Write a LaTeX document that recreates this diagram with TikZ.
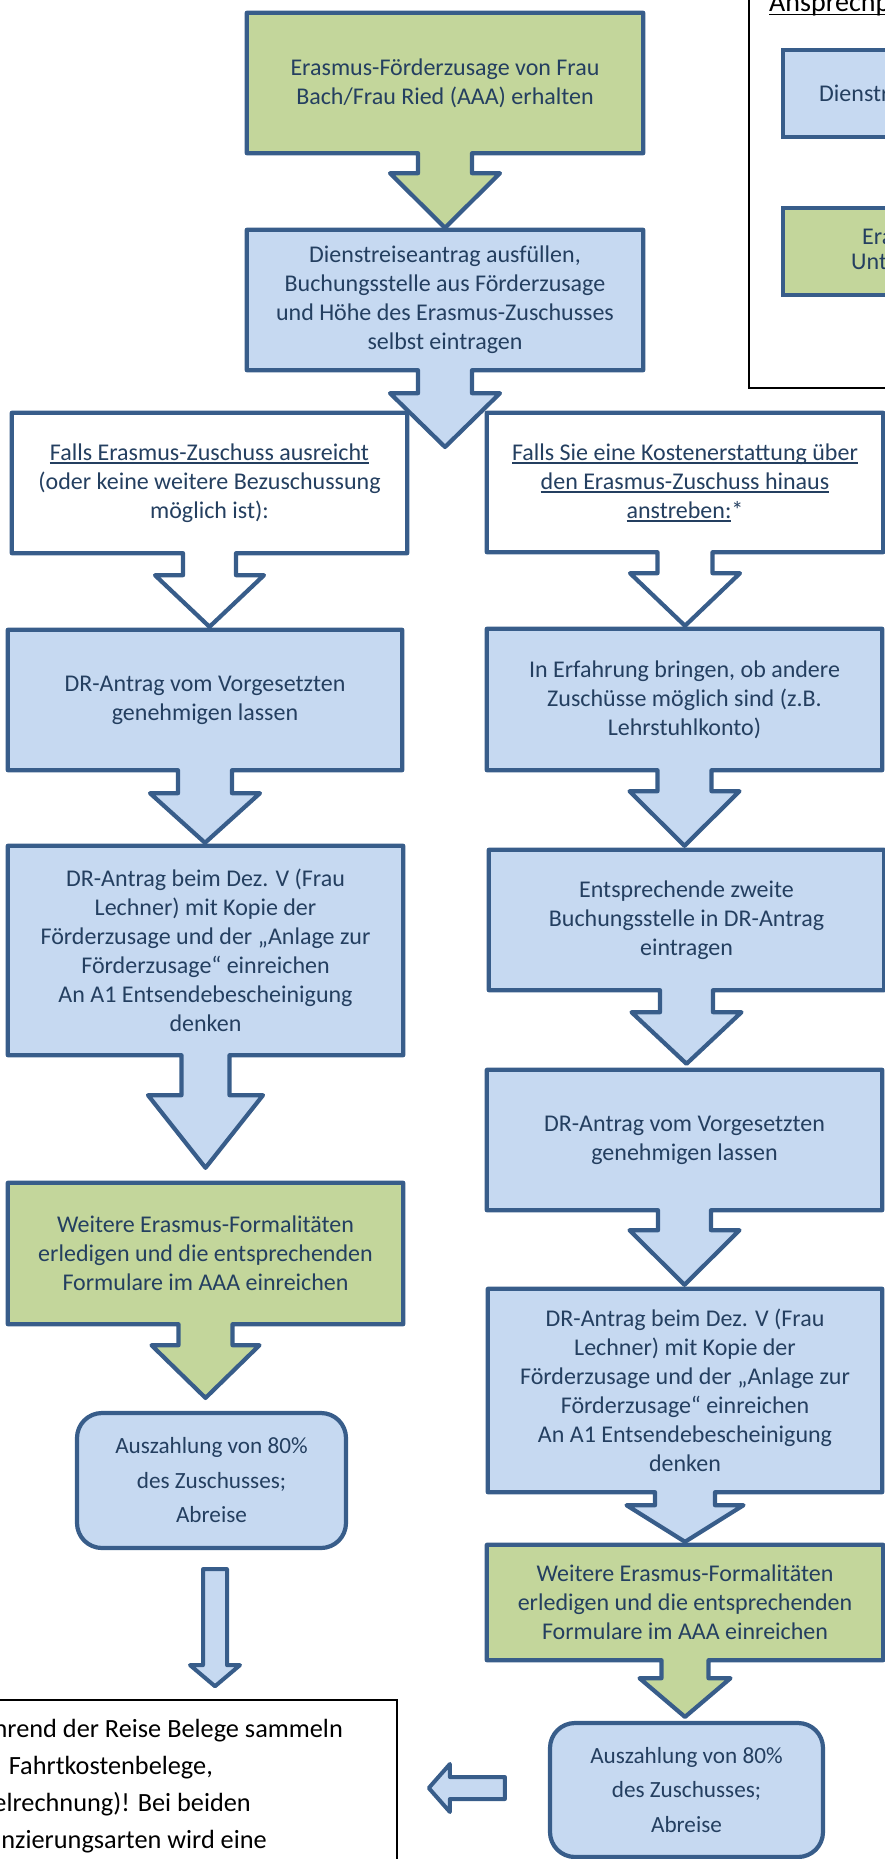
\documentclass[tikz,border=0pt]{standalone}
\usepackage{fontspec}
\setmainfont{Carlito}
\usetikzlibrary{calc,backgrounds}
\definecolor{bcol}{HTML}{385D8A}
\definecolor{bluef}{HTML}{C6D9F1}
\definecolor{greenf}{HTML}{C3D69B}
\definecolor{tcol}{HTML}{243F60}
\newcommand{\ulx}[1]{\setbox0\hbox{#1}\rlap{\rule[-3.4pt]{\wd0}{1.6pt}}\box0}
% #1 node, #2 fill, #3 target, #4 stub half width, #5 stub length, #6 head half width, #7 gap above target
\newcommand{\callout}[7]{%
  \begin{scope}[on background layer]
  \path[calloutline, fill=#2] (#1.north west) -- (#1.north east) -- (#1.south east)
    -- ($(#1.south)+(#4,0)$) -- ($(#1.south)+(#4,#5)$) -- ($(#1.south)+(#6,#5)$)
    -- ($(#1.south |- #3.north)+(0,-#7)$)
    -- ($(#1.south)+(-#6,#5)$) -- ($(#1.south)+(-#4,#5)$) -- ($(#1.south)+(-#4,0)$)
    -- (#1.south west) -- cycle;
  \end{scope}}
\tikzset{
  calloutline/.style={draw=bcol, line width=4.2pt, line join=round},
  procbox/.style={rectangle, inner sep=0pt, align=center, text=tcol,
    font=\fontsize{24}{29}\selectfont},
  roundbox/.style={rectangle, rounded corners=25pt, draw=bcol, fill=bluef, line width=4.2pt,
    inner sep=0pt, align=center, text=tcol, font=\fontsize{23.2}{34.5}\selectfont},
  notetext/.style={anchor=base east, inner sep=0pt, text=black, font=\fontsize{26.3}{37}\selectfont},
  legtext/.style={anchor=base west, inner sep=0pt, text=tcol, font=\fontsize{24}{29}\selectfont},
}
\begin{document}
\begin{tikzpicture}[x=1pt, y=-1pt]
\useasboundingbox (0,0) rectangle (885,1859);
\clip (0,0) rectangle (885,1859);

% top chain
\node[procbox, minimum width=396, minimum height=140] (top) at (445,83)
  {Erasmus-Förderzusage von Frau\\Bach/Frau Ried (AAA) erhalten};
\node[procbox, minimum width=396, minimum height=140] (dra) at (445,300)
  {Dienstreiseantrag ausfüllen,\\Buchungsstelle aus Förderzusage\\und Höhe des Erasmus-Zuschusses\\selbst eintragen};
\coordinate (split) at (445,447);

% left column
\node[procbox, minimum width=395, minimum height=140] (fallsL) at (209.5,483)
  {\ulx{Falls Erasmus-Zuschuss ausreicht}\\(oder keine weitere Bezuschussung\\möglich ist):};
\node[procbox, minimum width=394, minimum height=140] (drL) at (205,700)
  {DR-Antrag vom Vorgesetzten\\genehmigen lassen};
\node[procbox, minimum width=395, minimum height=209] (dezL) at (205.5,950.5)
  {DR-Antrag beim Dez. V (Frau\\Lechner) mit Kopie der\\Förderzusage und der „Anlage zur\\Förderzusage“ einreichen\\An A1 Entsendebescheinigung\\denken};
\node[procbox, minimum width=395, minimum height=141] (greenL) at (205.5,1253.5)
  {Weitere Erasmus-Formalitäten\\erledigen und die entsprechenden\\Formulare im AAA einreichen};
\node[roundbox, minimum width=269, minimum height=135] (rndL) at (211.5,1480.5)
  {Auszahlung von 80\%\\des Zuschusses;\\Abreise};

% right column
\node[procbox, minimum width=396, minimum height=139] (fallsR) at (685,482.5)
  {\ulx{Falls Sie eine Kostenerstattung über}\\\ulx{den Erasmus-Zuschuss hinaus}\\\ulx{anstreben:}*};
\node[procbox, minimum width=395, minimum height=141] (erfR) at (684.5,699.5)
  {In Erfahrung bringen, ob andere\\Zuschüsse möglich sind (z.B.\\Lehrstuhlkonto)};
\node[procbox, minimum width=395, minimum height=140] (entR) at (686.5,920)
  {Entsprechende zweite\\Buchungsstelle in DR-Antrag\\eintragen};
\node[procbox, minimum width=395, minimum height=140] (drR) at (684.5,1140)
  {DR-Antrag vom Vorgesetzten\\genehmigen lassen};
\node[procbox, minimum width=394, minimum height=203] (dezR) at (685,1390.5)
  {DR-Antrag beim Dez. V (Frau\\Lechner) mit Kopie der\\Förderzusage und der „Anlage zur\\Förderzusage“ einreichen\\An A1 Entsendebescheinigung\\denken};
\node[procbox, minimum width=396, minimum height=115] (greenR) at (685,1602.5)
  {Weitere Erasmus-Formalitäten\\erledigen und die entsprechenden\\Formulare im AAA einreichen};
\node[roundbox, minimum width=273, minimum height=134] (rndR) at (686.5,1790)
  {Auszahlung von 80\%\\des Zuschusses;\\Abreise};

% callout shapes
\callout{top}{greenf}{dra}{27}{20}{55}{2}
\callout{dra}{bluef}{split}{27}{23}{55}{0}
\callout{fallsL}{white}{drL}{26.5}{22}{54.5}{3}
\callout{drL}{bluef}{dezL}{27}{23}{55}{3}
\callout{dezL}{bluef}{greenL}{24}{40}{57.5}{15}
\callout{greenL}{greenf}{rndL}{27}{21}{54}{13}
\callout{fallsR}{white}{erfR}{27.5}{21}{55}{3}
\callout{erfR}{bluef}{entR}{27}{21}{55}{4}
\callout{entR}{bluef}{drR}{26.5}{22}{55}{6}
\callout{drR}{bluef}{dezR}{26.5}{20}{55}{4}
\callout{dezR}{bluef}{greenR}{30}{13}{58.5}{3}
\callout{greenR}{greenf}{rndR}{23.5}{18}{45.5}{4}

% notes box (cut off)
\node[draw=black, line width=1.5pt, minimum width=402, minimum height=170, inner sep=0pt] (notes) at (196,1785) {};
\node[notetext] (n1) at (343,1737) {hrend der Reise Belege sammeln};
\node[notetext] (n2) at (213,1774) {Fahrtkostenbelege,};
\node[notetext] (n3) at (251,1811) {elrechnung)! Bei beiden};
\node[notetext] (n4) at (267,1848) {nzierungsarten wird eine};

% thin down arrow rndL -> notes
\coordinate (ta) at ($(rndL.south)+(3.5,0)$);
\path[calloutline, line width=4pt, fill=bluef]
  ($(ta)+(-12,19)$) -- ($(ta)+(12,19)$) -- ($(ta)+(12,115)$)
  -- ($(ta)+(25,115)$) -- ($(ta |- notes.north)+(0,-13)$)
  -- ($(ta)+(-25,115)$) -- ($(ta)+(-12,115)$) -- cycle;

% left arrow rndR -> notes
\coordinate (la) at ($(rndR.west)+(0,-2)$);
\path[calloutline, line width=4pt, fill=bluef]
  ($(la)+(-43,-11)$) -- ($(la)+(-43,11)$) -- ($(la)+(-98,11)$) -- ($(la)+(-98,24)$)
  -- ($(notes.east |- la)+(31,0)$)
  -- ($(la)+(-98,-24)$) -- ($(la)+(-98,-11)$) -- cycle;

% legend (cut off)
\node[draw=black, line width=2pt, minimum width=251, minimum height=408, inner sep=0pt] (legend) at (874.5,184) {};
\node[anchor=base west, inner sep=0pt, text=black, font=\fontsize{28}{32}\selectfont] (ansp) at (769,12) {\ulx{Ansprechp}};
\node[draw=bcol, fill=bluef, line width=4.2pt, minimum width=207, minimum height=87, inner sep=0pt] (legblue) at (886.5,93.5) {};
\node[draw=bcol, fill=greenf, line width=4.2pt, minimum width=207, minimum height=87, inner sep=0pt] (leggreen) at (886.5,251.5) {};
\node[legtext] (lb) at (819,102) {Dienstr};
\node[legtext] (lg1) at (862,245) {Era};
\node[legtext] (lg2) at (851,270) {Unt};
\end{tikzpicture}
\end{document}
